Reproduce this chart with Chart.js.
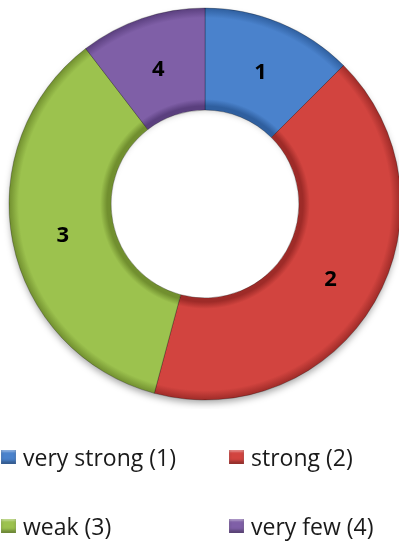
<!DOCTYPE html>
<html>
<head>
<meta charset="utf-8">
<script src="https://cdn.jsdelivr.net/npm/chart.js@4/dist/chart.umd.min.js"></script>
<style>
  html, body { margin: 0; padding: 0; background: #fff; overflow: hidden; }
  body { width: 399px; height: 546px; position: relative; font-family: 'Open Sans', Lato, sans-serif; }
  #chartBox { position: absolute; left: 0; top: -1px; width: 410px; height: 410px; }
  #legend { position: absolute; left: 0; top: 0; width: 399px; height: 546px; pointer-events: none; }
  .item { position: absolute; display: flex; align-items: center; font-size: 23px; line-height: 30px; color: #1a1a1a; white-space: nowrap; }
  .swatch { width: 15px; height: 14px; margin-right: 7px; box-shadow: inset 0 -3px 3px rgba(0,0,0,0.3), inset 0 2px 2px rgba(255,255,255,0.35); }
</style>
</head>
<body>
<div id="chartBox"><canvas id="donut"></canvas></div>
<div id="legend"></div>
<script>
// Chart data
const categories = ['very strong (1)', 'strong (2)', 'weak (3)', 'very few (4)'];
const sliceLabels = ['1', '2', '3', '4'];
const counts = [6, 20, 17, 5];

const baseColors = ['#4a82cc', '#d2443f', '#9cc24e', '#7f5fa7'];
const darkColors = ['#2f5f9f', '#9e2b28', '#718f2f', '#5a3f7e'];

const ringOuter = 196;
const ringInner = 98;

// Bevel look: radial gradient darker at both edges of the ring
function bevel(ctx) {
    const chart = ctx.chart;
    const i = ctx.dataIndex;
    if (!chart.chartArea) return baseColors[i];
    const cx = (chart.chartArea.left + chart.chartArea.right) / 2;
    const cy = (chart.chartArea.top + chart.chartArea.bottom) / 2;
    const g = chart.ctx.createRadialGradient(cx, cy, ringInner, cx, cy, ringOuter);
    g.addColorStop(0, darkColors[i]);
    g.addColorStop(0.07, baseColors[i]);
    g.addColorStop(0.9, baseColors[i]);
    g.addColorStop(1, darkColors[i]);
    return g;
}

// Soft shadow under the ring
const ringShadow = {
    id: 'ringShadow',
    beforeDatasetsDraw(chart) {
        const { ctx, chartArea } = chart;
        const cx = (chartArea.left + chartArea.right) / 2;
        const cy = (chartArea.top + chartArea.bottom) / 2;
        ctx.save();
        ctx.shadowColor = 'rgba(0,0,0,0.35)';
        ctx.shadowBlur = 7;
        ctx.shadowOffsetY = 4;
        ctx.fillStyle = '#888';
        ctx.beginPath();
        ctx.arc(cx, cy, ringOuter - 1, 0, Math.PI * 2);
        ctx.arc(cx, cy, ringInner + 1, 0, Math.PI * 2, true);
        ctx.fill();
        ctx.restore();
    }
};

// Category number drawn in the middle of each slice
const sliceNumbers = {
    id: 'sliceNumbers',
    afterDatasetsDraw(chart) {
        const { ctx } = chart;
        const meta = chart.getDatasetMeta(0);
        ctx.save();
        ctx.font = "bold 22px 'Open Sans', Lato, sans-serif";
        ctx.fillStyle = '#000';
        ctx.textAlign = 'center';
        ctx.textBaseline = 'middle';
        meta.data.forEach((arc, i) => {
            const p = arc.tooltipPosition();
            ctx.fillText(sliceLabels[i], p.x, p.y + 3);
        });
        ctx.restore();
    }
};

new Chart(document.getElementById('donut'), {
    type: 'doughnut',
    data: {
        labels: categories,
        datasets: [{
            data: counts,
            backgroundColor: bevel,
            borderColor: 'rgba(0,0,0,0.25)',
            borderWidth: 1
        }]
    },
    options: {
        responsive: true,
        maintainAspectRatio: false,
        animation: false,
        radius: ringOuter,
        cutout: ringInner,
        layout: { padding: 0 },
        plugins: {
            legend: { display: false },
            tooltip: { enabled: false }
        }
    },
    plugins: [ringShadow, sliceNumbers]
});

// Legend in two columns, two rows
const legendSpots = [
    { left: 1, top: 442 },
    { left: 229, top: 442 },
    { left: 1, top: 511 },
    { left: 229, top: 511 }
];
const legendEl = document.getElementById('legend');
categories.forEach((name, i) => {
    const item = document.createElement('div');
    item.className = 'item';
    item.style.left = legendSpots[i].left + 'px';
    item.style.top = legendSpots[i].top + 'px';
    const sw = document.createElement('span');
    sw.className = 'swatch';
    sw.style.background = baseColors[i];
    const txt = document.createElement('span');
    txt.textContent = name;
    item.appendChild(sw);
    item.appendChild(txt);
    legendEl.appendChild(item);
});
</script>
</body>
</html>
